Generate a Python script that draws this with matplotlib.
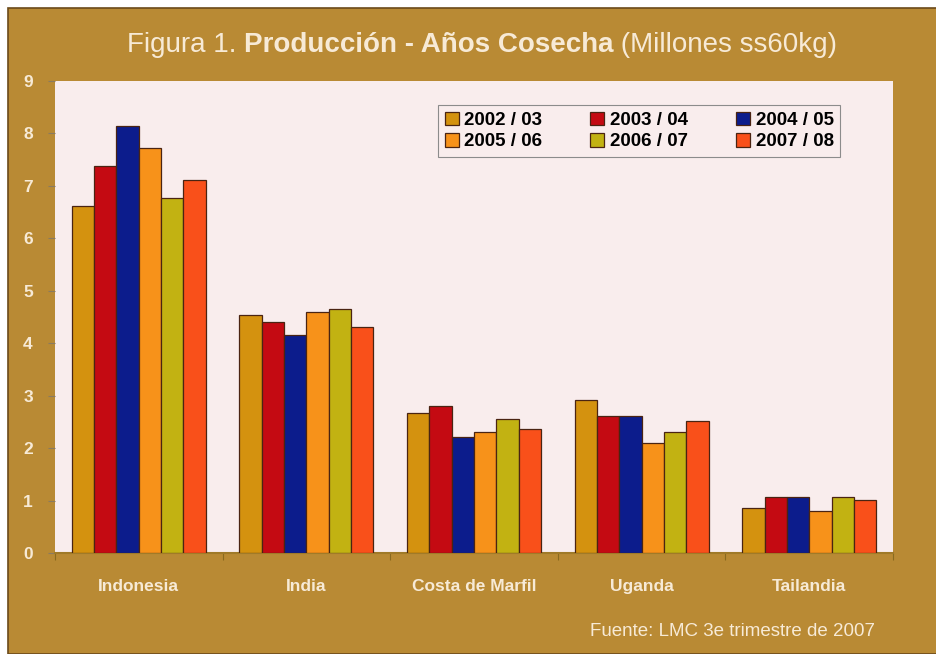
import matplotlib
matplotlib.use("Agg")
import matplotlib.pyplot as plt
from matplotlib.patches import Rectangle
import numpy as np

# data (millones sacos 60kg)
COUNTRIES = ["Indonesia", "India", "Costa de Marfil", "Uganda", "Tailandia"]
SEASONS = ["2002 / 03", "2003 / 04", "2004 / 05", "2005 / 06", "2006 / 07", "2007 / 08"]
V_0203 = [6.62, 4.54, 2.67, 2.92, 0.85]
V_0304 = [7.37, 4.40, 2.81, 2.61, 1.06]
V_0405 = [8.15, 4.16, 2.22, 2.61, 1.07]
V_0506 = [7.72, 4.59, 2.30, 2.10, 0.80]
V_0607 = [6.76, 4.66, 2.55, 2.31, 1.07]
V_0708 = [7.12, 4.31, 2.36, 2.52, 1.02]
SERIES = [V_0203, V_0304, V_0405, V_0506, V_0607, V_0708]
YTICKS = list(range(0, 10))

COLORS = ["#D4920F", "#C40A12", "#0C1C8C", "#F7921A", "#C2B212", "#F9501A"]
GOLD = "#B98A34"
PANEL = "#F9EDED"
CREAM = "#F7EAD6"
EDGE = "#4A2412"

plt.rcParams["font.family"] = ["Liberation Sans", "DejaVu Sans"]

fig = plt.figure(figsize=(9.37, 6.54), dpi=100)
fig.patch.set_facecolor("white")
fig.add_artist(Rectangle((8 / 937, 0), 1, 1 - 8 / 654, transform=fig.transFigure,
                         facecolor=GOLD, edgecolor="#6B4A1A", linewidth=1.2, zorder=-5))

ax = fig.add_axes([55 / 937, (654 - 553) / 654, (893 - 55) / 937, (553 - 81) / 654])
ax.set_facecolor(PANEL)

n = len(SERIES)
w = 0.8 / n
x = np.arange(len(COUNTRIES))
handles = []
for i, vals in enumerate(SERIES):
    b = ax.bar(x - 0.4 + w * (i + 0.5), vals, width=w, color=COLORS[i],
               edgecolor=EDGE, linewidth=0.9, label=SEASONS[i], zorder=3)
    handles.append(b)

ax.set_xlim(-0.5, len(COUNTRIES) - 0.5)
ax.set_ylim(0, 9)
ax.set_yticks(YTICKS)
ax.set_yticklabels([str(t) for t in YTICKS], fontsize=12.5, fontweight="bold", color=CREAM)
ax.tick_params(axis="y", length=5, color="#8A7A60", pad=11)

ax.set_xticks(np.arange(-0.5, len(COUNTRIES)), minor=False)
ax.set_xticklabels([])
ax.tick_params(axis="x", which="major", length=5, color="#8A6A20")
ax.set_xticks(x, minor=True)
ax.set_xticklabels(COUNTRIES, minor=True, fontsize=12.5, fontweight="bold", color=CREAM)
ax.tick_params(axis="x", which="minor", length=0, pad=19)

for s in ("top", "right", "left"):
    ax.spines[s].set_visible(False)
ax.spines["bottom"].set_color("#A07A28")
ax.spines["bottom"].set_linewidth(1.5)

order = [0, 3, 1, 4, 2, 5]
leg = ax.legend([handles[i] for i in order], [SEASONS[i] for i in order], ncol=3,
                loc="upper left", bbox_to_anchor=(0.457, 0.845, 0.48, 0.104), mode="expand",
                borderaxespad=0, fancybox=False, framealpha=1, facecolor=PANEL,
                edgecolor="#8C8C8C", handlelength=0.75, handleheight=0.75, handletextpad=0.3,
                labelspacing=0.2, borderpad=0.35, columnspacing=1.5,
                prop={"weight": "bold", "size": 13.5})
leg.get_frame().set_linewidth(0.8)
leg.set_zorder(5)

# title in three styles
mid = fig.text(428.5 / 937, 1 - 52 / 654, "Producción - Años Cosecha", ha="center",
               va="baseline", fontsize=20, fontweight="bold", color=CREAM)
ax.annotate("Figura 1. ", xy=(0, 0), xycoords=mid, ha="right", va="bottom",
            fontsize=20, color=CREAM, annotation_clip=False)
ax.annotate(" (Millones ss60kg)", xy=(1, 0), xycoords=mid, ha="left", va="bottom",
            fontsize=20, color=CREAM, annotation_clip=False)

fig.text(875 / 937, 1 - 631 / 654, "Fuente: LMC 3e trimestre de 2007", ha="right",
         va="center", fontsize=13.5, color=CREAM)

fig.savefig("out.png", dpi=100, facecolor=fig.get_facecolor())
